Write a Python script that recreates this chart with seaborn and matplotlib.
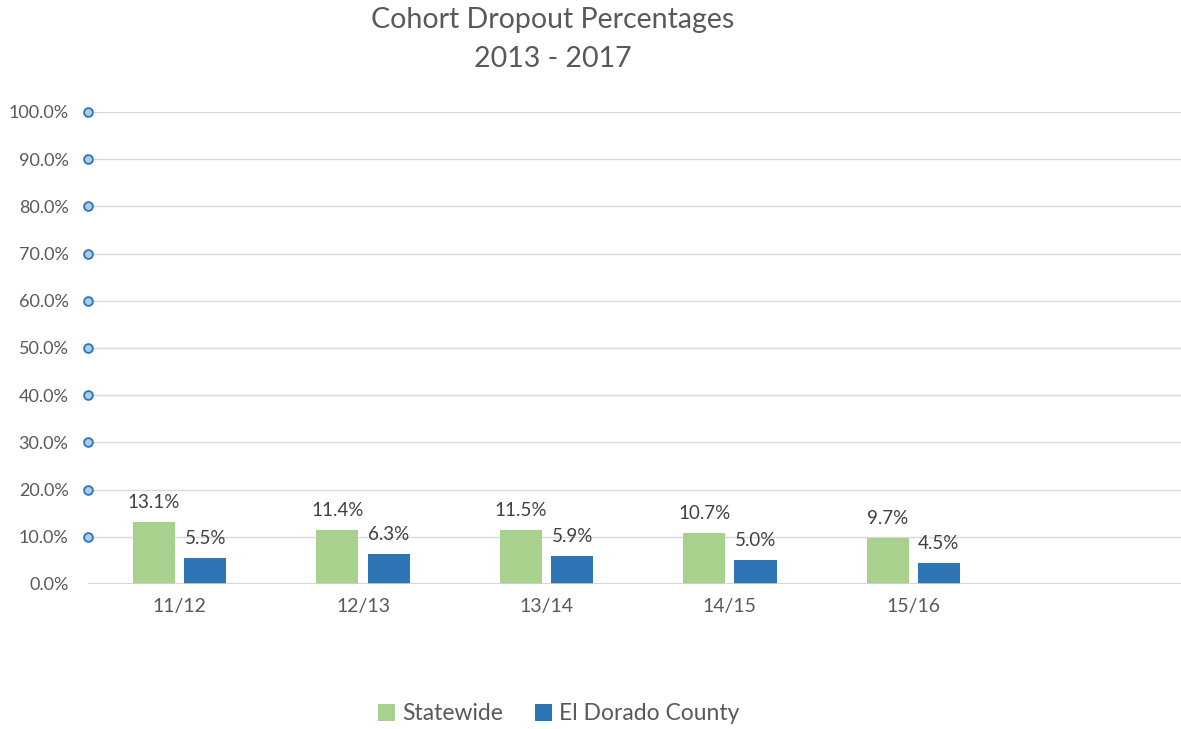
import matplotlib
matplotlib.use("Agg")
import matplotlib.pyplot as plt
import seaborn as sns
import pandas as pd

# Cohort dropout rates (percent) by school year
years = ["11/12", "12/13", "13/14", "14/15", "15/16"]
statewide = [13.1, 11.4, 11.5, 10.7, 9.7]
el_dorado = [5.5, 6.3, 5.9, 5.0, 4.5]
series_names = ["Statewide", "El Dorado County"]
y_ticks = [0, 10, 20, 30, 40, 50, 60, 70, 80, 90, 100]
axis_markers = [10, 20, 30, 40, 50, 60, 70, 80, 90, 100]

sns.set_theme(style="white")
plt.rcParams["font.family"] = ["Lato", "DejaVu Sans"]
text_color = "#595959"

df = pd.DataFrame({
    "year": years * 2,
    "rate": statewide + el_dorado,
    "series": [series_names[0]] * len(years) + [series_names[1]] * len(years),
})

fig = plt.figure(figsize=(11.81, 7.29), dpi=100)
ax = fig.add_axes([0.0745, 0.199, 0.9255, 0.6475])

palette = {series_names[0]: "#a9d18e", series_names[1]: "#2e75b6"}
sns.barplot(data=df, x="year", y="rate", hue="series", order=years,
            hue_order=series_names, palette=palette, width=0.56, gap=0.18,
            saturation=1, linewidth=0, ax=ax, legend=True)

for container in ax.containers:
    ax.bar_label(container, labels=[f"{v:.1f}%" for v in container.datavalues],
                 padding=8, fontsize=13.5, color="#404040")

# small circle markers along the value axis
sns.scatterplot(x=[-0.5] * len(axis_markers), y=axis_markers, ax=ax,
                s=40, color="#a9cdee", edgecolor="#2e75b6", linewidth=1.3,
                zorder=5, clip_on=False, legend=False)

ax.set_xlim(-0.5, 5.46)
ax.set_ylim(0, 100)
ax.set_yticks(y_ticks)
ax.set_yticklabels([f"{t:.1f}%" for t in y_ticks])
ax.yaxis.grid(True, color="#d9d9d9", linewidth=1)
ax.set_axisbelow(True)
for s in ax.spines.values():
    s.set_visible(False)
ax.axhline(0, color="#d0d0d0", linewidth=1.2, zorder=1)
ax.tick_params(axis="y", length=0, pad=14, labelsize=13, labelcolor=text_color)
ax.tick_params(axis="x", length=0, pad=10, labelsize=14, labelcolor=text_color)
ax.set_xlabel("")
ax.set_ylabel("")

handles, labels = ax.get_legend_handles_labels()
ax.legend_.remove()
fig.legend(handles, labels, loc="center", bbox_to_anchor=(0.473, 0.021),
           ncol=2, frameon=False, fontsize=16.5, labelcolor=text_color,
           handlelength=0.75, handleheight=0.75, handletextpad=0.3,
           columnspacing=1.4)

fig.text(0.468, 0.990, "Cohort Dropout Percentages\n2013 - 2017",
         ha="center", va="top", fontsize=20.5, color=text_color,
         linespacing=1.6)

fig.savefig("out.png", dpi=100)
